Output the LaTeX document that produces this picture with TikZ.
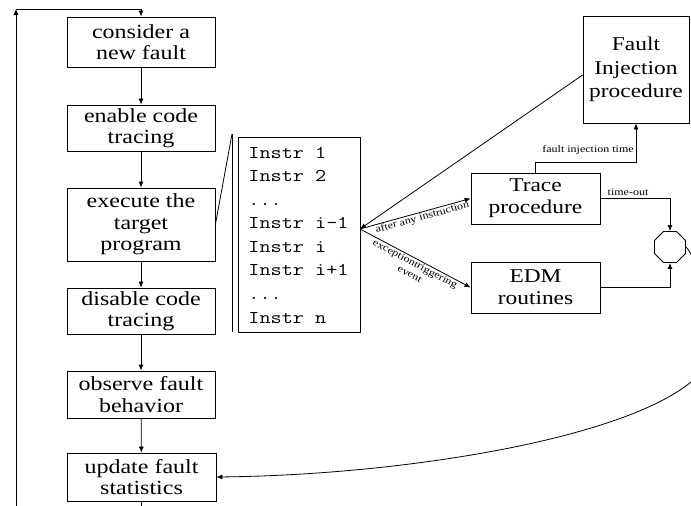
\documentclass[tikz,border=0pt]{standalone}
\usepackage{fontspec}
\setmainfont{Liberation Serif}
\newfontfamily\sfont[FakeStretch=1.2]{Liberation Serif}
\newfontfamily\mfont[FakeStretch=1.2]{Latin Modern Mono}
\usetikzlibrary{arrows.meta,shapes.geometric,calc}
\begin{document}
\begin{tikzpicture}[x=1pt,y=-1pt, line width=0.8pt,
  arr/.style={-{Latex[length=6pt,width=5pt]}},
  lbox/.style={draw, minimum width=148pt, align=center, inner sep=0pt, font=\sfont\fontsize{20}{21.5}\selectfont},
  rbox/.style={draw, align=center, inner sep=0pt, font=\sfont\fontsize{19.5}{22}\selectfont},
  lab/.style={font=\sfont\fontsize{10}{11.5}\selectfont, inner sep=1pt, align=center},
  codeline/.style={font=\mfont\fontsize{18}{23.6}\selectfont, anchor=base west, inner sep=0pt}]
\useasboundingbox (0,0) rectangle (691,506);
\begin{scope}
\clip (0,0) rectangle (691,506);
% left column
\node[lbox, minimum height=50pt] (b1) at (141,42) {consider a\\new fault};
\node[lbox, minimum height=46pt] (b2) at (141,128) {enable code\\tracing};
\node[lbox, minimum height=73pt] (b3) at (141,224.5) {execute the\\target\\program};
\node[lbox, minimum height=46pt] (b4) at (141,311) {disable code\\tracing};
\node[lbox, minimum height=47pt] (b5) at (141,394.5) {observe fault\\behavior};
\node[lbox, minimum height=48pt, minimum width=149pt] (b6) at (141.5,477) {update fault\\statistics};
\draw[arr] (b1) -- (b2);
\draw[arr] (b2) -- (b3);
\draw[arr] (b3) -- (b4);
\draw[arr] (b4) -- (b5);
\draw[arr] (b5) -- (b6);
\coordinate (bot) at (141.5,506);
\draw (b6.south) -- (bot);
\coordinate (lb) at (16,506);
\coordinate (lt) at (16,9);
\draw[arr] (lb) -- (lt);
\draw[arr] (lt) -| (b1.north);
% code listing
\node[draw, minimum width=122pt, minimum height=195pt, inner sep=0pt] (frame) at (299,234.5) {};
\coordinate (bt) at (232,134);
\coordinate (bb) at (232,332);
\draw (bt) -- (bb);
\draw (b3.east) -- (bt);
\node[codeline] (i1) at (248,158) {Instr 1};
\node[codeline] (i2) at (248,181.6) {Instr 2};
\node[codeline] (i3) at (248,205.1) {...};
\node[codeline] (i4) at (248,228.7) {Instr i-1};
\node[codeline] (i5) at (248,252.3) {Instr i};
\node[codeline] (i6) at (248,275.9) {Instr i+1};
\node[codeline] (i7) at (248,299.4) {...};
\node[codeline] (i8) at (248,323) {Instr n};
% right part
\node[rbox, minimum width=129pt, minimum height=51pt] (trace) at (535.5,198.5) {Trace\\procedure};
\node[rbox, minimum width=129pt, minimum height=51pt] (edm) at (535.5,287.5) {EDM\\routines};
\node[rbox, minimum width=106pt, minimum height=107pt, font=\sfont\fontsize{19.5}{23.5}\selectfont] (fi) at (636,69.5) {Fault\\Injection\\procedure};
\node[draw, regular polygon, regular polygon sides=8, minimum size=33.6pt, inner sep=0pt] (oct) at (670,247) {};
\coordinate (j) at (360,229);
\draw[arr] ($(fi.west)+(0,5.5)$) -- (j);
\draw[arr] (j) -- node[lab, sloped, below, pos=0.55, inner sep=0.5pt] (l1) {after any instruction} (trace.west);
\draw[arr] (j) -- node[lab, sloped, below, pos=0.52] (l2) {exceptiontriggering\\event} (edm.west);
\draw[arr] (trace.north) -- ++(0,-10) -| (fi.south);
\node[lab] (l3) at (588,150) {fault injection time};
\draw[arr] (trace.east) -| (oct.north);
\node[lab] (l4) at (628,192) {time-out};
\draw[arr] (edm.east) -| (oct.south);
\coordinate (rc) at (691,382);
\draw[arr] (oct.east) .. controls (705,265) and (712,365) .. (rc) .. controls (620,440) and (400,475) .. (b6.east);
\end{scope}
\end{tikzpicture}
\end{document}
